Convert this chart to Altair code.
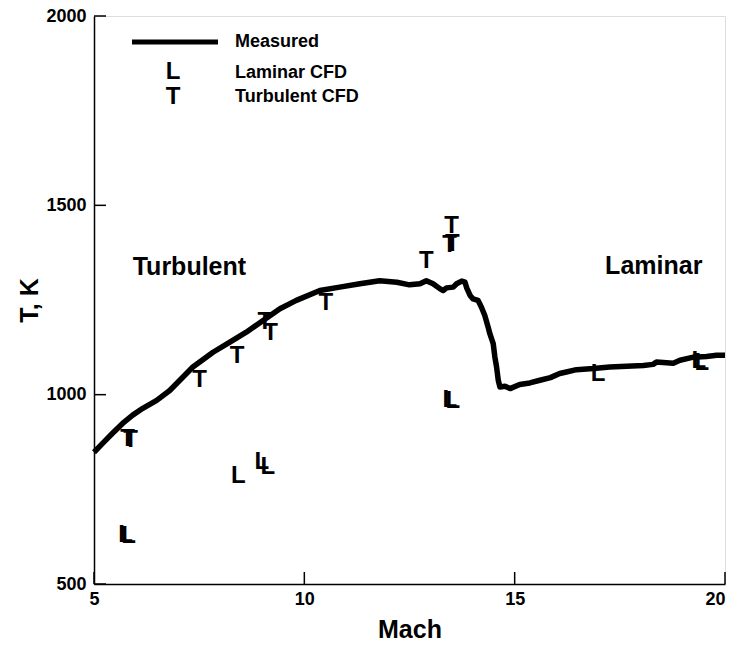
import altair as alt
import pandas as pd

FONT = "Liberation Sans"

# Measured temperature vs Mach
meas_mach = [5.0, 5.21, 5.44, 5.68, 5.92, 6.16, 6.49, 6.80, 7.04, 7.35, 7.83, 8.23, 8.62, 9.02,
             9.42, 9.81, 10.37, 10.84, 11.32, 11.79, 12.2, 12.5, 12.75, 12.90, 13.06, 13.22,
             13.30, 13.38, 13.54, 13.62, 13.74, 13.82, 13.86, 13.94, 14.01, 14.13, 14.21,
             14.29, 14.37, 14.41, 14.49, 14.53, 14.57, 14.61, 14.65, 14.77, 14.89, 15.12,
             15.36, 15.60, 15.85, 16.07, 16.23, 16.47, 16.87, 17.26, 17.66, 18.06, 18.29,
             18.37, 18.77, 18.93, 19.25, 19.56, 19.80, 20.0]
meas_temp = [848, 872, 898, 924, 946, 964, 985, 1011, 1038, 1073, 1112, 1139, 1165, 1196,
             1227, 1249, 1275, 1284, 1293, 1301, 1297, 1290, 1293, 1301, 1293, 1280,
             1275, 1282, 1284, 1293, 1300, 1297, 1282, 1262, 1253, 1249, 1231,
             1209, 1178, 1161, 1135, 1099, 1073, 1038, 1020, 1022, 1016, 1027,
             1031, 1038, 1045, 1056, 1060, 1066, 1069, 1073, 1075, 1077, 1080,
             1086, 1083, 1091, 1099, 1101, 1104, 1104]

# Turbulent CFD points ("T")
turb_mach = [5.80, 5.87, 7.51, 8.40, 9.06, 9.20, 10.51, 12.90, 13.45, 13.52, 13.50]
turb_temp = [882, 880, 1038, 1101, 1191, 1162, 1243, 1352, 1394, 1399, 1446]

# Laminar CFD points ("L")
lam_mach = [5.75, 5.82, 8.43, 8.99, 9.13, 13.46, 13.53, 16.98, 19.38, 19.45]
lam_temp = [630, 628, 785, 822, 808, 985, 982, 1054, 1088, 1083]

# Region annotations
note_text = ["Turbulent", "Laminar"]
note_mach = [5.92, 17.15]
note_temp = [1336, 1341]

x_ticks = [5, 10, 15, 20]
y_ticks = [500, 1000, 1500, 2000]

W, H = 631, 568

meas = pd.DataFrame({"mach": meas_mach, "temp": meas_temp})
pts = pd.DataFrame({
    "mach": turb_mach + lam_mach,
    "temp": turb_temp + lam_temp,
    "sym": ["T"] * len(turb_mach) + ["L"] * len(lam_mach),
})
notes = pd.DataFrame({"mach": note_mach, "temp": note_temp, "label": note_text})

xscale = alt.Scale(domain=[5, 20], nice=False, zero=False)
yscale = alt.Scale(domain=[500, 2000], nice=False, zero=False)

xaxis = alt.Axis(values=x_ticks, title="Mach", ticks=False, tickSize=0, grid=False, format="d",
                 domainColor="black", domainWidth=1.5,
                 labelFont=FONT, labelFontSize=18, labelFontWeight="bold", labelColor="black",
                 labelPadding=6, labelAlign={"expr": "datum.value == 20 ? 'right' : 'center'"},
                 titleFont=FONT, titleFontSize=25, titleFontWeight="bold", titleColor="black",
                 titlePadding=9)
yaxis = alt.Axis(values=y_ticks, title="T, K", ticks=False, tickSize=0, grid=False, format="d",
                 domainColor="black", domainWidth=1.5,
                 labelFont=FONT, labelFontSize=18, labelFontWeight="bold", labelColor="black",
                 labelPadding=8,
                 titleFont=FONT, titleFontSize=25, titleFontWeight="bold", titleColor="black",
                 titlePadding=3)

X = alt.X("mach:Q", scale=xscale, axis=xaxis)
Y = alt.Y("temp:Q", scale=yscale, axis=yaxis)

line = alt.Chart(meas).mark_line(color="black", strokeWidth=5.5, strokeJoin="round").encode(
    x=X, y=Y, order="mach:Q")

markers = alt.Chart(pts).mark_text(font=FONT, fontSize=24, fontWeight="bold", color="black",
                                   align="center", baseline="middle").encode(
    x=alt.X("mach:Q", scale=xscale), y=alt.Y("temp:Q", scale=yscale), text="sym:N")

note_layer = alt.Chart(notes).mark_text(font=FONT, fontSize=25, fontWeight="bold", color="black",
                                        align="left", baseline="middle").encode(
    x=alt.X("mach:Q", scale=xscale), y=alt.Y("temp:Q", scale=yscale), text="label:N")

xt = alt.Chart(pd.DataFrame({"v": x_ticks})).mark_rule(color="black", strokeWidth=1.5).encode(
    x=alt.X("v:Q", scale=xscale), y=alt.value(H), y2=alt.value(H - 12))
yt = alt.Chart(pd.DataFrame({"v": y_ticks})).mark_rule(color="black", strokeWidth=1.5).encode(
    y=alt.Y("v:Q", scale=yscale), x=alt.value(0), x2=alt.value(12))

# Legend
leg_line = alt.Chart(pd.DataFrame({"k": [0]})).mark_rule(color="black", strokeWidth=5).encode(
    x=alt.value(38), x2=alt.value(124), y=alt.value(26))

def leg_text(label, x, y, size):
    return alt.Chart(pd.DataFrame({"label": [label]})).mark_text(
        font=FONT, fontSize=size, fontWeight="bold", color="black",
        align="left" if len(label) > 1 else "center", baseline="middle").encode(
        x=alt.value(x), y=alt.value(y), text="label:N")

legend = [
    leg_line,
    leg_text("Measured", 141, 26, 18),
    leg_text("L", 79, 56, 24),
    leg_text("Laminar CFD", 141, 57, 18),
    leg_text("T", 79, 81, 24),
    leg_text("Turbulent CFD", 141, 81, 18),
]

chart = alt.layer(line, markers, note_layer, xt, yt, *legend).properties(
    width=W, height=H,
    autosize=alt.AutoSizeParams(type="none"),
    padding={"left": 86, "top": 8, "right": 5, "bottom": 56},
).configure_view(stroke=None).configure(background="white")

chart.save("out.html", embed_options={"renderer": "svg", "actions": False})
